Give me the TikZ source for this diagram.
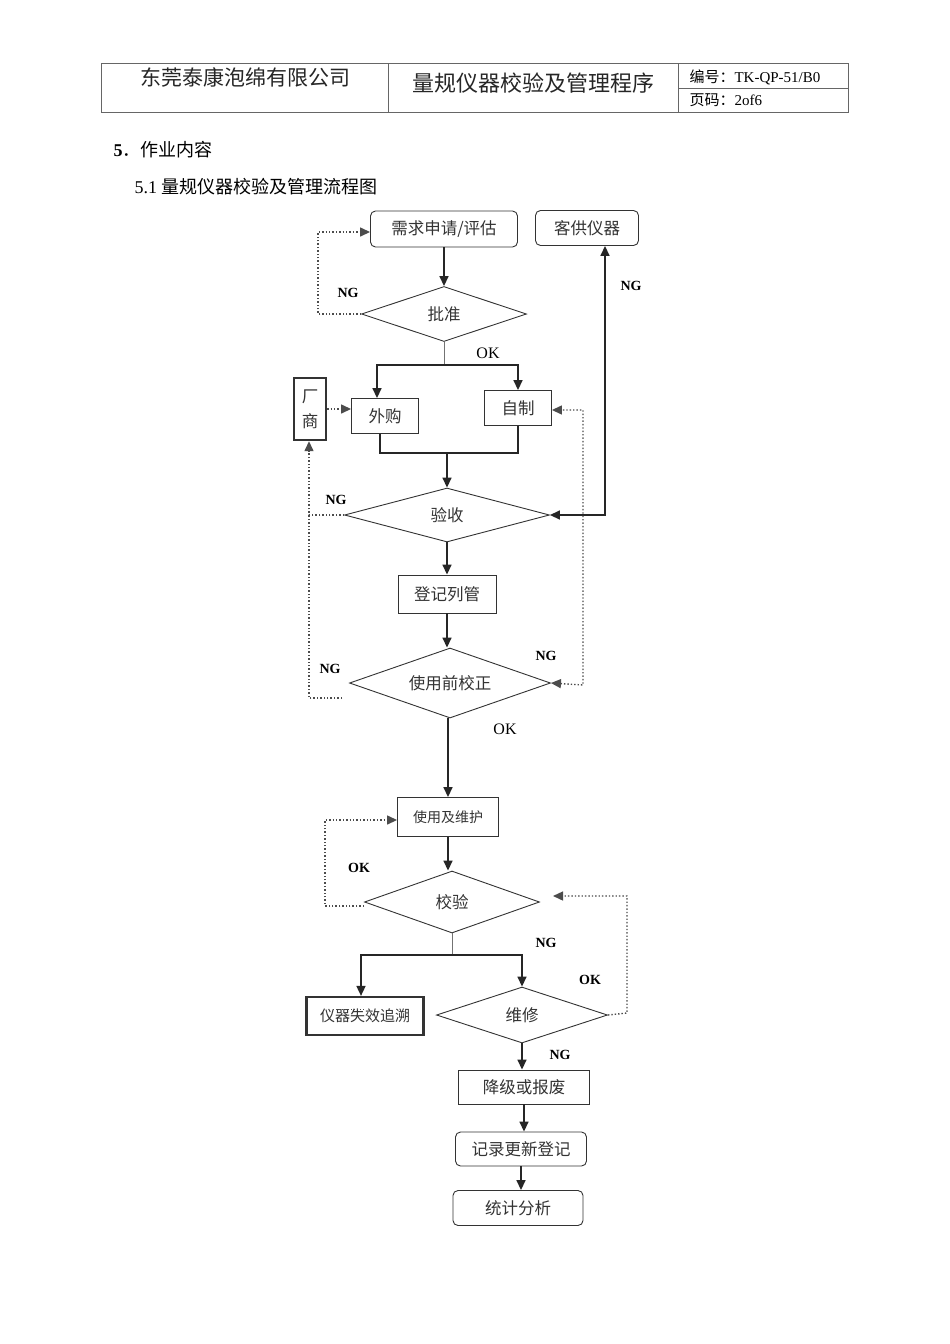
\documentclass[tikz,border=0pt]{standalone}
\usepackage{fontspec}
\setmainfont{Liberation Serif}
\newfontfamily\cjk{Noto Sans CJK SC}
\usetikzlibrary{shapes.geometric,arrows.meta}

\tikzset{
  flow/.style={font=\cjk\fontsize{16.5}{25}\selectfont, text=black!80, draw=black!80, line width=0.9pt, inner sep=0pt},
  box/.style={flow, rectangle},
  rbox/.style={flow, rectangle, rounded corners=5pt},
  dec/.style={flow, diamond, aspect=3},
  line/.style={line width=1.6pt, draw=black!85},
  dotline/.style={line width=1.4pt, dotted, draw=black!70},
  tip/.style={-{Triangle[length=10pt,width=9pt]}},
  tips/.style={{Triangle[length=10pt,width=9pt]}-{Triangle[length=10pt,width=9pt]}},
  lbl/.style={font=\bfseries\fontsize{14}{16}\selectfont},
}

\begin{document}
\begin{tikzpicture}[x=1pt,y=-1pt]

\fill[white] (0,0) rectangle (950,1344);
\useasboundingbox (0,0) rectangle (950,1344);

% header
\draw[black!60, line width=0.8pt] (101,63) rectangle (848,112);
\draw[black!60, line width=0.8pt] (388,63) -- (388,112);
\draw[black!60, line width=0.8pt] (678,63) -- (678,112);
\draw[black!60, line width=0.8pt] (678,88) -- (848,88);
\node[font=\cjk\fontsize{21}{24}\selectfont, text=black!85] (co) at (245,77) {东莞泰康泡绵有限公司};
\node[font=\cjk\fontsize{22}{24}\selectfont, text=black!85] (tt) at (533,83) {量规仪器校验及管理程序};
\node[anchor=west, font=\fontsize{15}{17}\selectfont] (no) at (686,77) {{\cjk 编号：}TK-QP-51/B0};
\node[anchor=west, font=\fontsize{15}{17}\selectfont] (pg) at (686,100) {{\cjk 页码：}2of6};

\node[anchor=west, font=\fontsize{18}{20}\selectfont] (s5) at (110,150) {\textbf{5}{\cjk ．作业内容}};
\node[anchor=west, font=\fontsize{18}{20}\selectfont] (s51) at (131,187) {5.1 {\cjk 量规仪器校验及管理流程图}};

% flow nodes
\node[rbox, minimum width=147pt, minimum height=36pt] (req) at (444,229) {需求申请/评估};
\node[rbox, minimum width=103pt, minimum height=35pt] (kg) at (587,228) {客供仪器};
\node[dec, minimum width=165pt, minimum height=55pt] (pz) at (444,314) {批准};
\node[box, line width=2.4pt, minimum width=32pt, minimum height=62pt, align=center] (cs) at (310,409) {厂\\商};
\node[box, minimum width=67pt, minimum height=35pt] (wg) at (385,416) {外购};
\node[box, minimum width=67pt, minimum height=35pt] (zz) at (518,408) {自制};
\node[dec, minimum width=205pt, minimum height=54pt] (ys) at (447,515) {验收};
\node[box, minimum width=98pt, minimum height=38pt] (dj) at (447,594) {登记列管};
\node[dec, minimum width=201pt, minimum height=70pt] (sq) at (450,683) {使用前校正};
\node[box, minimum width=101pt, minimum height=39pt, font=\cjk\fontsize{14}{16}\selectfont] (sy) at (448,817) {使用及维护};
\node[dec, minimum width=175pt, minimum height=62pt] (jy) at (452,902) {校验};
\node[box, line width=2.2pt, minimum width=117pt, minimum height=38pt, font=\cjk\fontsize{15}{17}\selectfont] (sx) at (365,1016) {仪器失效追溯};
\node[dec, minimum width=171pt, minimum height=56pt] (wx) at (522,1015) {维修};
\node[box, minimum width=131pt, minimum height=34pt] (jj) at (524,1087) {降级或报废};
\node[rbox, minimum width=131pt, minimum height=34pt] (jl) at (521,1149) {记录更新登记};
\node[rbox, minimum width=130pt, minimum height=35pt] (tj) at (518,1208) {统计分析};

% helper points
\coordinate (ok1) at (444,365);
\coordinate (mrg) at (447,453);
\coordinate (kgr) at (605,515);
\coordinate (ngr) at (583,685);
\coordinate (sqn) at (342,698);
\coordinate (jy1) at (452,955);
\coordinate (jyr) at (553,896);
\coordinate (okr) at (627,1013);

% solid connectors
\draw[line,tip] (req.south) -- (req.south |- pz.north);
\draw[black!55, line width=1pt] (pz.south) -- (ok1);
\draw[line,tip] (ok1) -| ([xshift=-8pt]wg.north);
\draw[line,tip] (ok1) -| (zz.north);
\draw[line] ([xshift=-5pt]wg.south) |- (mrg) -| (zz.south);
\draw[line,tip] (mrg) -- (mrg |- ys.north);
\draw[line,tips] (ys.east) -- (kgr) -- (kgr |- kg.south);
\draw[line,tip] (ys.south) -- (dj.north);
\draw[line,tip] (dj.south) -- (dj.south |- sq.north);
\draw[line,tip] (sq.south -| sy.north) -- (sy.north);
\draw[line,tip] (sy.south) -- (sy.south |- jy.north);
\draw[black!55, line width=1pt] (jy.south) -- (jy1);
\draw[line,tip] (jy1) -| ([xshift=-4pt]sx.north);
\draw[line,tip] (jy1) -| (wx.north);
\draw[line,tip] (wx.south) -- (wx.south |- jj.north);
\draw[line,tip] (jj.south) -- (jj.south |- jl.north);
\draw[line,tip] (jl.south) -- (jl.south |- tj.north);

% dotted return paths
\draw[dotline,tip] (pz.west) -- ++(-43,0) |- ([yshift=-3pt]req.west);
\draw[dotline,tip] (cs.east) -- (wg.west |- cs.east);
\draw[dotline,tip] (ys.west) -| ([xshift=-1pt]cs.south);
\draw[dotline] (sqn) -| (309,516);
\draw[dotline,tips] (sq.east) -- (ngr) |- ([yshift=-2pt]zz.east);
\draw[dotline,tip] ([yshift=-4pt]jy.west) -- ++(-39,0) |- ([yshift=-3pt]sy.west);
\draw[dotline,tip] (wx.east) -- (okr) |- (jyr);
\draw[black!70, line width=1pt, dotted] (333,1009) -- (365,1009);

% labels
\node[lbl] (ng1) at (348,293) {NG};
\node[font=\fontsize{16}{18}\selectfont] (ok2) at (488,353) {OK};
\node[lbl] (ng2) at (631,286) {NG};
\node[lbl] (ng3) at (336,500) {NG};
\node[lbl] (ng4) at (330,669) {NG};
\node[lbl] (ng5) at (546,656) {NG};
\node[font=\fontsize{16}{18}\selectfont] (ok3) at (505,729) {OK};
\node[lbl] (ok4) at (359,868) {OK};
\node[lbl] (ng6) at (546,943) {NG};
\node[lbl] (ok5) at (590,980) {OK};
\node[lbl] (ng7) at (560,1055) {NG};

\end{tikzpicture}
\end{document}
